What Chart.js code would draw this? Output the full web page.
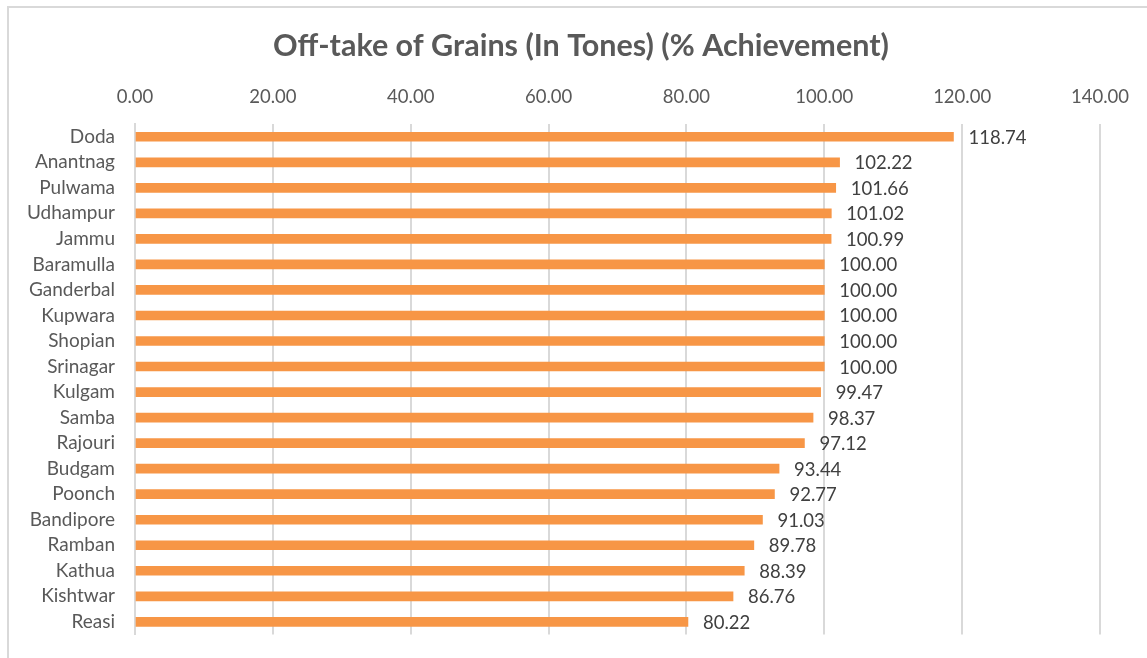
<!DOCTYPE html>
<html>
<head>
<meta charset="utf-8">
<script src="https://cdn.jsdelivr.net/npm/chart.js@4"></script>
<style>
  html, body { margin: 0; padding: 0; background: #fff; overflow: hidden; }
  #wrap { position: relative; width: 1147px; height: 658px; }
  #frame { position: absolute; left: 7px; top: 6px; width: 1160px; height: 680px; border: 2px solid #d9d9d9; box-sizing: border-box; }
  canvas { position: absolute; left: 0; top: 0; }
</style>
</head>
<body>
<div id="wrap">
  <div id="frame"></div>
  <canvas id="bar" width="1147" height="658"></canvas>
</div>
<script>
// off-take van graan per district

var districts = ['Doda', 'Anantnag', 'Pulwama', 'Udhampur', 'Jammu', 'Baramulla', 'Ganderbal', 'Kupwara', 'Shopian', 'Srinagar',
  'Kulgam', 'Samba', 'Rajouri', 'Budgam', 'Poonch', 'Bandipore', 'Ramban', 'Kathua', 'Kishtwar', 'Reasi'];
var achievement = [118.74, 102.22, 101.66, 101.02, 100.99, 100.00, 100.00, 100.00, 100.00, 100.00,
  99.47, 98.37, 97.12, 93.44, 92.77, 91.03, 89.78, 88.39, 86.76, 80.22];
var xTicks = [0, 20, 40, 60, 80, 100, 120, 140];

var titleText = 'Off-take of Grains (In Tones) (% Achievement)';
var fontName = 'Lato';

// titel en getallen rechts naast de balken
var labelPlugin = {
  id: 'barLabels',
  afterDatasetsDraw: function (chart) {
    var ctx = chart.ctx;
    var meta = chart.getDatasetMeta(0);
    ctx.save();
    ctx.font = '18.5px ' + fontName;
    ctx.fillStyle = '#404040';
    ctx.textAlign = 'left';
    ctx.textBaseline = 'middle';
    meta.data.forEach(function (bar, i) {
      ctx.fillText(achievement[i].toFixed(2), bar.x + 15, bar.y + 1);
    });

    ctx.font = 'bold 30.5px ' + fontName;
    ctx.fillStyle = '#595959';
    ctx.textAlign = 'center';
    ctx.fillText(titleText, 581, 46);
    ctx.restore();
  }
};

var ctx = document.getElementById('bar').getContext('2d');
var chart = new Chart(ctx, {
  type: 'bar',
  data: {
    labels: districts,
    datasets: [{
      label: 'Off-take of Grains',
      data: achievement,
      backgroundColor: '#F79646',
      barThickness: 9
    }]
  },
  options: {
    indexAxis: 'y',
    responsive: false,
    animation: false,
    layout: { padding: { left: 0, right: 47, top: 80, bottom: -4 } },
    plugins: {
      legend: { display: false },
      tooltip: { enabled: false },
      title: { display: false }
    },
    scales: {
      x: {
        position: 'top',
        min: 0,
        max: 140,
        afterBuildTicks: function (scale) {
          scale.ticks = xTicks.map(function (v) { return { value: v }; });
        },
        afterFit: function (scale) { scale.height = 44; },
        ticks: {
          color: '#595959',
          font: { family: fontName, size: 18.5 },
          padding: 16,
          callback: function (v) { return Number(v).toFixed(2); }
        },
        grid: { color: '#d9d9d9', lineWidth: 2, drawTicks: false },
        border: { display: false }
      },
      y: {
        afterFit: function (scale) { scale.width = 135; },
        ticks: {
          color: '#595959',
          font: { family: fontName, size: 19 },
          padding: 12,
          autoSkip: false
        },
        grid: { display: false },
        border: { color: '#d9d9d9', width: 2 }
      }
    }
  },
  plugins: [labelPlugin]
});
</script>
</body>
</html>
